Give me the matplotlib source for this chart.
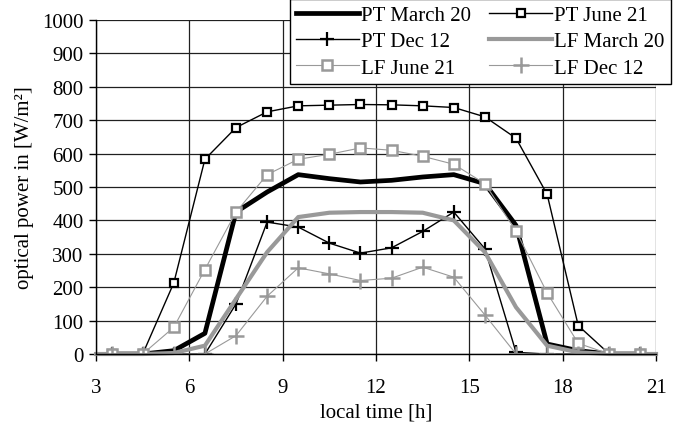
import matplotlib
matplotlib.use("Agg")
import matplotlib.pyplot as plt
from matplotlib.ticker import MultipleLocator

plt.rcParams["font.family"] = ["Liberation Serif", "DejaVu Serif"]
plt.rcParams["font.size"] = 15

# hourly samples (half past each hour)
hours = [3.5, 4.5, 5.5, 6.5, 7.5, 8.5, 9.5, 10.5, 11.5, 12.5,
         13.5, 14.5, 15.5, 16.5, 17.5, 18.5, 19.5, 20.5]

pt_march = [0, 0, 10, 62, 425, 485, 537, 525, 515, 520,
            530, 537, 510, 385, 30, 10, 0, 0]
pt_june = [0, 0, 213, 583, 678, 725, 743, 745, 747, 746,
           743, 738, 710, 646, 478, 85, 0, 0]
pt_dec = [0, 0, 0, 0, 150, 395, 380, 332, 302, 318,
          367, 425, 315, 5, 0, 0, 0, 0]
lf_june = [0, 0, 80, 253, 425, 537, 583, 598, 617, 610,
           592, 568, 510, 368, 183, 32, 0, 0]
lf_dec = [0, 0, 0, 0, 55, 173, 258, 240, 220, 227,
          260, 230, 117, 0, 0, 0, 0, 0]

# the LF March curve runs across the whole axis
lf_march_hours = [3] + hours + [21]
lf_march = [0, 0, 0, 3, 25, 165, 305, 410, 423, 425, 425,
            423, 400, 305, 140, 25, 5, 0, 0, 0]

GREY = "#999999"

fig = plt.figure(figsize=(6.83, 4.31), dpi=100)
ax = fig.add_axes([0.1406, 0.1763, 0.8199, 0.7750])

l_ptm, = ax.plot(hours, pt_march, color="black", lw=3.4, label="PT March 20")
l_ptj, = ax.plot(hours, pt_june, color="black", lw=1.0, marker="s", ms=5.8,
                 mfc="white", mec="black", mew=1.6, label="PT June 21")
l_ptd, = ax.plot(hours, pt_dec, color="black", lw=1.0, marker="+", ms=10,
                 mew=1.6, label="PT Dec 12")
l_lfm, = ax.plot(lf_march_hours, lf_march, color=GREY, lw=3.0,
                 clip_on=False, solid_capstyle="projecting",
                 label="LF March 20")
l_lfj, = ax.plot(hours, lf_june, color=GREY, lw=0.8, marker="s", ms=7.5,
                 mfc="white", mec=GREY, mew=1.8, label="LF June 21")
l_lfd, = ax.plot(hours, lf_dec, color=GREY, lw=0.8, marker="+", ms=11,
                 mew=1.8, label="LF Dec 12")

ax.set_xlim(3, 21)
ax.set_ylim(0, 1000)
ax.xaxis.set_major_locator(MultipleLocator(3))
ax.yaxis.set_major_locator(MultipleLocator(100))
ax.grid(True, color="#202020", lw=0.9)
ax.set_axisbelow(True)
for side in ("top", "right"):
    ax.spines[side].set_visible(False)
for side in ("left", "bottom"):
    ax.spines[side].set_linewidth(1.0)
ax.tick_params(direction="out", length=5, width=1.0, pad=12)
ax.tick_params(axis="y", pad=4)

ax.set_xlabel("local time [h]", labelpad=4)
ax.set_ylabel("optical power in [W/m²]", labelpad=6)

# two columns, filled row by row
handles = [l_ptm, l_ptd, l_lfj, l_ptj, l_lfm, l_lfd]
leg = fig.legend(handles=handles, labels=[h.get_label() for h in handles],
                 ncol=2, loc="upper right", bbox_to_anchor=(0.982, 1.0),
                 frameon=True, fancybox=False, edgecolor="black",
                 framealpha=1, handlelength=3.0, handletextpad=0.1,
                 columnspacing=0.9, labelspacing=0.33, borderpad=0.3,
                 borderaxespad=0.0)
leg.get_frame().set_linewidth(1.0)

fig.savefig("out.png", dpi=100)
